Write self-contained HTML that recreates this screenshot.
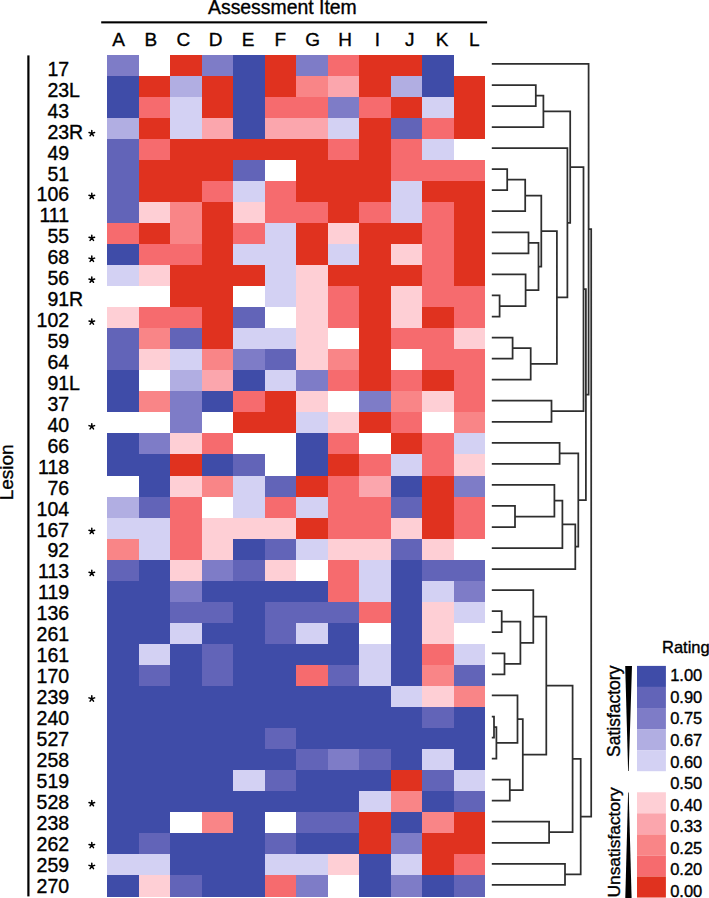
<!DOCTYPE html>
<html><head><meta charset="utf-8"><style>
html,body{margin:0;padding:0;background:#fff;}
body{width:709px;height:898px;overflow:hidden;}
svg{display:block;}
text{font-family:"Liberation Sans",sans-serif;fill:#000;stroke:#000;stroke-width:0.35px;}
</style></head><body>
<svg width="709" height="898" viewBox="0 0 709 898">
<g shape-rendering="crispEdges"><rect x="107.00" y="54.50" width="31.50" height="21.05" fill="#7e7cc7"/><rect x="170.00" y="54.50" width="31.50" height="21.05" fill="#e0321f"/><rect x="201.50" y="54.50" width="31.50" height="21.05" fill="#7e7cc7"/><rect x="233.00" y="54.50" width="31.50" height="21.05" fill="#3f4ca8"/><rect x="264.50" y="54.50" width="31.50" height="21.05" fill="#e0321f"/><rect x="296.00" y="54.50" width="31.50" height="21.05" fill="#7e7cc7"/><rect x="327.50" y="54.50" width="31.50" height="21.05" fill="#f66b6e"/><rect x="359.00" y="54.50" width="31.50" height="21.05" fill="#e0321f"/><rect x="390.50" y="54.50" width="31.50" height="21.05" fill="#e0321f"/><rect x="422.00" y="54.50" width="31.50" height="21.05" fill="#3f4ca8"/><rect x="107.00" y="75.55" width="31.50" height="21.05" fill="#3f4ca8"/><rect x="138.50" y="75.55" width="31.50" height="21.05" fill="#e0321f"/><rect x="170.00" y="75.55" width="31.50" height="21.05" fill="#b1aee2"/><rect x="201.50" y="75.55" width="31.50" height="21.05" fill="#e0321f"/><rect x="233.00" y="75.55" width="31.50" height="21.05" fill="#3f4ca8"/><rect x="264.50" y="75.55" width="31.50" height="21.05" fill="#e0321f"/><rect x="296.00" y="75.55" width="31.50" height="21.05" fill="#f98587"/><rect x="327.50" y="75.55" width="31.50" height="21.05" fill="#fba6ad"/><rect x="359.00" y="75.55" width="31.50" height="21.05" fill="#e0321f"/><rect x="390.50" y="75.55" width="31.50" height="21.05" fill="#b1aee2"/><rect x="422.00" y="75.55" width="31.50" height="21.05" fill="#3f4ca8"/><rect x="453.50" y="75.55" width="31.50" height="21.05" fill="#e0321f"/><rect x="107.00" y="96.60" width="31.50" height="21.05" fill="#3f4ca8"/><rect x="138.50" y="96.60" width="31.50" height="21.05" fill="#f66b6e"/><rect x="170.00" y="96.60" width="31.50" height="21.05" fill="#d3d1f3"/><rect x="201.50" y="96.60" width="31.50" height="21.05" fill="#e0321f"/><rect x="233.00" y="96.60" width="31.50" height="21.05" fill="#3f4ca8"/><rect x="264.50" y="96.60" width="31.50" height="21.05" fill="#f66b6e"/><rect x="296.00" y="96.60" width="31.50" height="21.05" fill="#f66b6e"/><rect x="327.50" y="96.60" width="31.50" height="21.05" fill="#7e7cc7"/><rect x="359.00" y="96.60" width="31.50" height="21.05" fill="#f66b6e"/><rect x="390.50" y="96.60" width="31.50" height="21.05" fill="#e0321f"/><rect x="422.00" y="96.60" width="31.50" height="21.05" fill="#d3d1f3"/><rect x="453.50" y="96.60" width="31.50" height="21.05" fill="#e0321f"/><rect x="107.00" y="117.65" width="31.50" height="21.05" fill="#b1aee2"/><rect x="138.50" y="117.65" width="31.50" height="21.05" fill="#e0321f"/><rect x="170.00" y="117.65" width="31.50" height="21.05" fill="#d3d1f3"/><rect x="201.50" y="117.65" width="31.50" height="21.05" fill="#fba6ad"/><rect x="233.00" y="117.65" width="31.50" height="21.05" fill="#3f4ca8"/><rect x="264.50" y="117.65" width="31.50" height="21.05" fill="#fba6ad"/><rect x="296.00" y="117.65" width="31.50" height="21.05" fill="#fba6ad"/><rect x="327.50" y="117.65" width="31.50" height="21.05" fill="#d3d1f3"/><rect x="359.00" y="117.65" width="31.50" height="21.05" fill="#e0321f"/><rect x="390.50" y="117.65" width="31.50" height="21.05" fill="#6264b8"/><rect x="422.00" y="117.65" width="31.50" height="21.05" fill="#f66b6e"/><rect x="453.50" y="117.65" width="31.50" height="21.05" fill="#e0321f"/><rect x="107.00" y="138.70" width="31.50" height="21.05" fill="#6264b8"/><rect x="138.50" y="138.70" width="31.50" height="21.05" fill="#f66b6e"/><rect x="170.00" y="138.70" width="31.50" height="21.05" fill="#e0321f"/><rect x="201.50" y="138.70" width="31.50" height="21.05" fill="#e0321f"/><rect x="233.00" y="138.70" width="31.50" height="21.05" fill="#e0321f"/><rect x="264.50" y="138.70" width="31.50" height="21.05" fill="#e0321f"/><rect x="296.00" y="138.70" width="31.50" height="21.05" fill="#e0321f"/><rect x="327.50" y="138.70" width="31.50" height="21.05" fill="#f66b6e"/><rect x="359.00" y="138.70" width="31.50" height="21.05" fill="#e0321f"/><rect x="390.50" y="138.70" width="31.50" height="21.05" fill="#f66b6e"/><rect x="422.00" y="138.70" width="31.50" height="21.05" fill="#d3d1f3"/><rect x="107.00" y="159.75" width="31.50" height="21.05" fill="#6264b8"/><rect x="138.50" y="159.75" width="31.50" height="21.05" fill="#e0321f"/><rect x="170.00" y="159.75" width="31.50" height="21.05" fill="#e0321f"/><rect x="201.50" y="159.75" width="31.50" height="21.05" fill="#e0321f"/><rect x="233.00" y="159.75" width="31.50" height="21.05" fill="#6264b8"/><rect x="296.00" y="159.75" width="31.50" height="21.05" fill="#e0321f"/><rect x="327.50" y="159.75" width="31.50" height="21.05" fill="#e0321f"/><rect x="359.00" y="159.75" width="31.50" height="21.05" fill="#e0321f"/><rect x="390.50" y="159.75" width="31.50" height="21.05" fill="#f66b6e"/><rect x="422.00" y="159.75" width="31.50" height="21.05" fill="#f66b6e"/><rect x="453.50" y="159.75" width="31.50" height="21.05" fill="#f66b6e"/><rect x="107.00" y="180.80" width="31.50" height="21.05" fill="#6264b8"/><rect x="138.50" y="180.80" width="31.50" height="21.05" fill="#e0321f"/><rect x="170.00" y="180.80" width="31.50" height="21.05" fill="#e0321f"/><rect x="201.50" y="180.80" width="31.50" height="21.05" fill="#f66b6e"/><rect x="233.00" y="180.80" width="31.50" height="21.05" fill="#d3d1f3"/><rect x="264.50" y="180.80" width="31.50" height="21.05" fill="#f66b6e"/><rect x="296.00" y="180.80" width="31.50" height="21.05" fill="#e0321f"/><rect x="327.50" y="180.80" width="31.50" height="21.05" fill="#e0321f"/><rect x="359.00" y="180.80" width="31.50" height="21.05" fill="#e0321f"/><rect x="390.50" y="180.80" width="31.50" height="21.05" fill="#d3d1f3"/><rect x="422.00" y="180.80" width="31.50" height="21.05" fill="#e0321f"/><rect x="453.50" y="180.80" width="31.50" height="21.05" fill="#e0321f"/><rect x="107.00" y="201.85" width="31.50" height="21.05" fill="#6264b8"/><rect x="138.50" y="201.85" width="31.50" height="21.05" fill="#fecfd5"/><rect x="170.00" y="201.85" width="31.50" height="21.05" fill="#f98587"/><rect x="201.50" y="201.85" width="31.50" height="21.05" fill="#e0321f"/><rect x="233.00" y="201.85" width="31.50" height="21.05" fill="#fecfd5"/><rect x="264.50" y="201.85" width="31.50" height="21.05" fill="#f66b6e"/><rect x="296.00" y="201.85" width="31.50" height="21.05" fill="#f66b6e"/><rect x="327.50" y="201.85" width="31.50" height="21.05" fill="#e0321f"/><rect x="359.00" y="201.85" width="31.50" height="21.05" fill="#f66b6e"/><rect x="390.50" y="201.85" width="31.50" height="21.05" fill="#d3d1f3"/><rect x="422.00" y="201.85" width="31.50" height="21.05" fill="#f66b6e"/><rect x="453.50" y="201.85" width="31.50" height="21.05" fill="#e0321f"/><rect x="107.00" y="222.90" width="31.50" height="21.05" fill="#f66b6e"/><rect x="138.50" y="222.90" width="31.50" height="21.05" fill="#e0321f"/><rect x="170.00" y="222.90" width="31.50" height="21.05" fill="#f98587"/><rect x="201.50" y="222.90" width="31.50" height="21.05" fill="#e0321f"/><rect x="233.00" y="222.90" width="31.50" height="21.05" fill="#f66b6e"/><rect x="264.50" y="222.90" width="31.50" height="21.05" fill="#d3d1f3"/><rect x="296.00" y="222.90" width="31.50" height="21.05" fill="#e0321f"/><rect x="327.50" y="222.90" width="31.50" height="21.05" fill="#fecfd5"/><rect x="359.00" y="222.90" width="31.50" height="21.05" fill="#e0321f"/><rect x="390.50" y="222.90" width="31.50" height="21.05" fill="#e0321f"/><rect x="422.00" y="222.90" width="31.50" height="21.05" fill="#f66b6e"/><rect x="453.50" y="222.90" width="31.50" height="21.05" fill="#e0321f"/><rect x="107.00" y="243.95" width="31.50" height="21.05" fill="#3f4ca8"/><rect x="138.50" y="243.95" width="31.50" height="21.05" fill="#f66b6e"/><rect x="170.00" y="243.95" width="31.50" height="21.05" fill="#f66b6e"/><rect x="201.50" y="243.95" width="31.50" height="21.05" fill="#e0321f"/><rect x="233.00" y="243.95" width="31.50" height="21.05" fill="#d3d1f3"/><rect x="264.50" y="243.95" width="31.50" height="21.05" fill="#d3d1f3"/><rect x="296.00" y="243.95" width="31.50" height="21.05" fill="#e0321f"/><rect x="327.50" y="243.95" width="31.50" height="21.05" fill="#d3d1f3"/><rect x="359.00" y="243.95" width="31.50" height="21.05" fill="#e0321f"/><rect x="390.50" y="243.95" width="31.50" height="21.05" fill="#fecfd5"/><rect x="422.00" y="243.95" width="31.50" height="21.05" fill="#f66b6e"/><rect x="453.50" y="243.95" width="31.50" height="21.05" fill="#e0321f"/><rect x="107.00" y="265.00" width="31.50" height="21.05" fill="#d3d1f3"/><rect x="138.50" y="265.00" width="31.50" height="21.05" fill="#fecfd5"/><rect x="170.00" y="265.00" width="31.50" height="21.05" fill="#e0321f"/><rect x="201.50" y="265.00" width="31.50" height="21.05" fill="#e0321f"/><rect x="233.00" y="265.00" width="31.50" height="21.05" fill="#e0321f"/><rect x="264.50" y="265.00" width="31.50" height="21.05" fill="#d3d1f3"/><rect x="296.00" y="265.00" width="31.50" height="21.05" fill="#fecfd5"/><rect x="327.50" y="265.00" width="31.50" height="21.05" fill="#e0321f"/><rect x="359.00" y="265.00" width="31.50" height="21.05" fill="#e0321f"/><rect x="390.50" y="265.00" width="31.50" height="21.05" fill="#e0321f"/><rect x="422.00" y="265.00" width="31.50" height="21.05" fill="#f66b6e"/><rect x="453.50" y="265.00" width="31.50" height="21.05" fill="#e0321f"/><rect x="170.00" y="286.05" width="31.50" height="21.05" fill="#e0321f"/><rect x="201.50" y="286.05" width="31.50" height="21.05" fill="#e0321f"/><rect x="264.50" y="286.05" width="31.50" height="21.05" fill="#d3d1f3"/><rect x="296.00" y="286.05" width="31.50" height="21.05" fill="#fecfd5"/><rect x="327.50" y="286.05" width="31.50" height="21.05" fill="#f66b6e"/><rect x="359.00" y="286.05" width="31.50" height="21.05" fill="#e0321f"/><rect x="390.50" y="286.05" width="31.50" height="21.05" fill="#fecfd5"/><rect x="422.00" y="286.05" width="31.50" height="21.05" fill="#f66b6e"/><rect x="453.50" y="286.05" width="31.50" height="21.05" fill="#f66b6e"/><rect x="107.00" y="307.10" width="31.50" height="21.05" fill="#fecfd5"/><rect x="138.50" y="307.10" width="31.50" height="21.05" fill="#f66b6e"/><rect x="170.00" y="307.10" width="31.50" height="21.05" fill="#f66b6e"/><rect x="201.50" y="307.10" width="31.50" height="21.05" fill="#e0321f"/><rect x="233.00" y="307.10" width="31.50" height="21.05" fill="#6264b8"/><rect x="296.00" y="307.10" width="31.50" height="21.05" fill="#fecfd5"/><rect x="327.50" y="307.10" width="31.50" height="21.05" fill="#f66b6e"/><rect x="359.00" y="307.10" width="31.50" height="21.05" fill="#e0321f"/><rect x="390.50" y="307.10" width="31.50" height="21.05" fill="#fecfd5"/><rect x="422.00" y="307.10" width="31.50" height="21.05" fill="#e0321f"/><rect x="453.50" y="307.10" width="31.50" height="21.05" fill="#f66b6e"/><rect x="107.00" y="328.15" width="31.50" height="21.05" fill="#6264b8"/><rect x="138.50" y="328.15" width="31.50" height="21.05" fill="#f98587"/><rect x="170.00" y="328.15" width="31.50" height="21.05" fill="#6264b8"/><rect x="201.50" y="328.15" width="31.50" height="21.05" fill="#e0321f"/><rect x="233.00" y="328.15" width="31.50" height="21.05" fill="#d3d1f3"/><rect x="264.50" y="328.15" width="31.50" height="21.05" fill="#d3d1f3"/><rect x="296.00" y="328.15" width="31.50" height="21.05" fill="#fecfd5"/><rect x="359.00" y="328.15" width="31.50" height="21.05" fill="#e0321f"/><rect x="390.50" y="328.15" width="31.50" height="21.05" fill="#f66b6e"/><rect x="422.00" y="328.15" width="31.50" height="21.05" fill="#f66b6e"/><rect x="453.50" y="328.15" width="31.50" height="21.05" fill="#fecfd5"/><rect x="107.00" y="349.20" width="31.50" height="21.05" fill="#6264b8"/><rect x="138.50" y="349.20" width="31.50" height="21.05" fill="#fecfd5"/><rect x="170.00" y="349.20" width="31.50" height="21.05" fill="#d3d1f3"/><rect x="201.50" y="349.20" width="31.50" height="21.05" fill="#f98587"/><rect x="233.00" y="349.20" width="31.50" height="21.05" fill="#7e7cc7"/><rect x="264.50" y="349.20" width="31.50" height="21.05" fill="#6264b8"/><rect x="296.00" y="349.20" width="31.50" height="21.05" fill="#fecfd5"/><rect x="327.50" y="349.20" width="31.50" height="21.05" fill="#f98587"/><rect x="359.00" y="349.20" width="31.50" height="21.05" fill="#e0321f"/><rect x="422.00" y="349.20" width="31.50" height="21.05" fill="#f66b6e"/><rect x="453.50" y="349.20" width="31.50" height="21.05" fill="#f66b6e"/><rect x="107.00" y="370.25" width="31.50" height="21.05" fill="#3f4ca8"/><rect x="170.00" y="370.25" width="31.50" height="21.05" fill="#b1aee2"/><rect x="201.50" y="370.25" width="31.50" height="21.05" fill="#fba6ad"/><rect x="233.00" y="370.25" width="31.50" height="21.05" fill="#3f4ca8"/><rect x="264.50" y="370.25" width="31.50" height="21.05" fill="#d3d1f3"/><rect x="296.00" y="370.25" width="31.50" height="21.05" fill="#7e7cc7"/><rect x="327.50" y="370.25" width="31.50" height="21.05" fill="#f66b6e"/><rect x="359.00" y="370.25" width="31.50" height="21.05" fill="#e0321f"/><rect x="390.50" y="370.25" width="31.50" height="21.05" fill="#f66b6e"/><rect x="422.00" y="370.25" width="31.50" height="21.05" fill="#e0321f"/><rect x="453.50" y="370.25" width="31.50" height="21.05" fill="#f66b6e"/><rect x="107.00" y="391.30" width="31.50" height="21.05" fill="#3f4ca8"/><rect x="138.50" y="391.30" width="31.50" height="21.05" fill="#f98587"/><rect x="170.00" y="391.30" width="31.50" height="21.05" fill="#7e7cc7"/><rect x="201.50" y="391.30" width="31.50" height="21.05" fill="#3f4ca8"/><rect x="233.00" y="391.30" width="31.50" height="21.05" fill="#f66b6e"/><rect x="264.50" y="391.30" width="31.50" height="21.05" fill="#e0321f"/><rect x="296.00" y="391.30" width="31.50" height="21.05" fill="#fecfd5"/><rect x="359.00" y="391.30" width="31.50" height="21.05" fill="#7e7cc7"/><rect x="390.50" y="391.30" width="31.50" height="21.05" fill="#f98587"/><rect x="422.00" y="391.30" width="31.50" height="21.05" fill="#fecfd5"/><rect x="453.50" y="391.30" width="31.50" height="21.05" fill="#f66b6e"/><rect x="170.00" y="412.35" width="31.50" height="21.05" fill="#7e7cc7"/><rect x="233.00" y="412.35" width="31.50" height="21.05" fill="#e0321f"/><rect x="264.50" y="412.35" width="31.50" height="21.05" fill="#e0321f"/><rect x="296.00" y="412.35" width="31.50" height="21.05" fill="#d3d1f3"/><rect x="327.50" y="412.35" width="31.50" height="21.05" fill="#fecfd5"/><rect x="359.00" y="412.35" width="31.50" height="21.05" fill="#e0321f"/><rect x="390.50" y="412.35" width="31.50" height="21.05" fill="#f66b6e"/><rect x="453.50" y="412.35" width="31.50" height="21.05" fill="#f98587"/><rect x="107.00" y="433.40" width="31.50" height="21.05" fill="#3f4ca8"/><rect x="138.50" y="433.40" width="31.50" height="21.05" fill="#7e7cc7"/><rect x="170.00" y="433.40" width="31.50" height="21.05" fill="#fecfd5"/><rect x="201.50" y="433.40" width="31.50" height="21.05" fill="#f66b6e"/><rect x="296.00" y="433.40" width="31.50" height="21.05" fill="#3f4ca8"/><rect x="327.50" y="433.40" width="31.50" height="21.05" fill="#f66b6e"/><rect x="390.50" y="433.40" width="31.50" height="21.05" fill="#e0321f"/><rect x="422.00" y="433.40" width="31.50" height="21.05" fill="#f66b6e"/><rect x="453.50" y="433.40" width="31.50" height="21.05" fill="#d3d1f3"/><rect x="107.00" y="454.45" width="31.50" height="21.05" fill="#3f4ca8"/><rect x="138.50" y="454.45" width="31.50" height="21.05" fill="#3f4ca8"/><rect x="170.00" y="454.45" width="31.50" height="21.05" fill="#e0321f"/><rect x="201.50" y="454.45" width="31.50" height="21.05" fill="#3f4ca8"/><rect x="233.00" y="454.45" width="31.50" height="21.05" fill="#6264b8"/><rect x="296.00" y="454.45" width="31.50" height="21.05" fill="#3f4ca8"/><rect x="327.50" y="454.45" width="31.50" height="21.05" fill="#e0321f"/><rect x="359.00" y="454.45" width="31.50" height="21.05" fill="#f66b6e"/><rect x="390.50" y="454.45" width="31.50" height="21.05" fill="#d3d1f3"/><rect x="422.00" y="454.45" width="31.50" height="21.05" fill="#f66b6e"/><rect x="453.50" y="454.45" width="31.50" height="21.05" fill="#fecfd5"/><rect x="138.50" y="475.50" width="31.50" height="21.05" fill="#3f4ca8"/><rect x="170.00" y="475.50" width="31.50" height="21.05" fill="#fecfd5"/><rect x="201.50" y="475.50" width="31.50" height="21.05" fill="#f98587"/><rect x="233.00" y="475.50" width="31.50" height="21.05" fill="#d3d1f3"/><rect x="264.50" y="475.50" width="31.50" height="21.05" fill="#6264b8"/><rect x="296.00" y="475.50" width="31.50" height="21.05" fill="#e0321f"/><rect x="327.50" y="475.50" width="31.50" height="21.05" fill="#f66b6e"/><rect x="359.00" y="475.50" width="31.50" height="21.05" fill="#fba6ad"/><rect x="390.50" y="475.50" width="31.50" height="21.05" fill="#3f4ca8"/><rect x="422.00" y="475.50" width="31.50" height="21.05" fill="#e0321f"/><rect x="453.50" y="475.50" width="31.50" height="21.05" fill="#7e7cc7"/><rect x="107.00" y="496.55" width="31.50" height="21.05" fill="#b1aee2"/><rect x="138.50" y="496.55" width="31.50" height="21.05" fill="#6264b8"/><rect x="170.00" y="496.55" width="31.50" height="21.05" fill="#f66b6e"/><rect x="233.00" y="496.55" width="31.50" height="21.05" fill="#d3d1f3"/><rect x="264.50" y="496.55" width="31.50" height="21.05" fill="#f66b6e"/><rect x="296.00" y="496.55" width="31.50" height="21.05" fill="#d3d1f3"/><rect x="327.50" y="496.55" width="31.50" height="21.05" fill="#f66b6e"/><rect x="359.00" y="496.55" width="31.50" height="21.05" fill="#f66b6e"/><rect x="390.50" y="496.55" width="31.50" height="21.05" fill="#6264b8"/><rect x="422.00" y="496.55" width="31.50" height="21.05" fill="#e0321f"/><rect x="453.50" y="496.55" width="31.50" height="21.05" fill="#f66b6e"/><rect x="107.00" y="517.60" width="31.50" height="21.05" fill="#d3d1f3"/><rect x="138.50" y="517.60" width="31.50" height="21.05" fill="#d3d1f3"/><rect x="170.00" y="517.60" width="31.50" height="21.05" fill="#f66b6e"/><rect x="201.50" y="517.60" width="31.50" height="21.05" fill="#fecfd5"/><rect x="233.00" y="517.60" width="31.50" height="21.05" fill="#fecfd5"/><rect x="264.50" y="517.60" width="31.50" height="21.05" fill="#fecfd5"/><rect x="296.00" y="517.60" width="31.50" height="21.05" fill="#e0321f"/><rect x="327.50" y="517.60" width="31.50" height="21.05" fill="#f66b6e"/><rect x="359.00" y="517.60" width="31.50" height="21.05" fill="#f66b6e"/><rect x="390.50" y="517.60" width="31.50" height="21.05" fill="#fecfd5"/><rect x="422.00" y="517.60" width="31.50" height="21.05" fill="#e0321f"/><rect x="453.50" y="517.60" width="31.50" height="21.05" fill="#f66b6e"/><rect x="107.00" y="538.65" width="31.50" height="21.05" fill="#f98587"/><rect x="138.50" y="538.65" width="31.50" height="21.05" fill="#d3d1f3"/><rect x="170.00" y="538.65" width="31.50" height="21.05" fill="#f66b6e"/><rect x="201.50" y="538.65" width="31.50" height="21.05" fill="#fecfd5"/><rect x="233.00" y="538.65" width="31.50" height="21.05" fill="#3f4ca8"/><rect x="264.50" y="538.65" width="31.50" height="21.05" fill="#6264b8"/><rect x="296.00" y="538.65" width="31.50" height="21.05" fill="#d3d1f3"/><rect x="327.50" y="538.65" width="31.50" height="21.05" fill="#fecfd5"/><rect x="359.00" y="538.65" width="31.50" height="21.05" fill="#fecfd5"/><rect x="390.50" y="538.65" width="31.50" height="21.05" fill="#6264b8"/><rect x="422.00" y="538.65" width="31.50" height="21.05" fill="#fecfd5"/><rect x="107.00" y="559.70" width="31.50" height="21.05" fill="#6264b8"/><rect x="138.50" y="559.70" width="31.50" height="21.05" fill="#3f4ca8"/><rect x="170.00" y="559.70" width="31.50" height="21.05" fill="#fecfd5"/><rect x="201.50" y="559.70" width="31.50" height="21.05" fill="#7e7cc7"/><rect x="233.00" y="559.70" width="31.50" height="21.05" fill="#6264b8"/><rect x="264.50" y="559.70" width="31.50" height="21.05" fill="#fecfd5"/><rect x="327.50" y="559.70" width="31.50" height="21.05" fill="#f66b6e"/><rect x="359.00" y="559.70" width="31.50" height="21.05" fill="#d3d1f3"/><rect x="390.50" y="559.70" width="31.50" height="21.05" fill="#3f4ca8"/><rect x="422.00" y="559.70" width="31.50" height="21.05" fill="#6264b8"/><rect x="453.50" y="559.70" width="31.50" height="21.05" fill="#6264b8"/><rect x="107.00" y="580.75" width="31.50" height="21.05" fill="#3f4ca8"/><rect x="138.50" y="580.75" width="31.50" height="21.05" fill="#3f4ca8"/><rect x="170.00" y="580.75" width="31.50" height="21.05" fill="#7e7cc7"/><rect x="201.50" y="580.75" width="31.50" height="21.05" fill="#3f4ca8"/><rect x="233.00" y="580.75" width="31.50" height="21.05" fill="#3f4ca8"/><rect x="264.50" y="580.75" width="31.50" height="21.05" fill="#3f4ca8"/><rect x="296.00" y="580.75" width="31.50" height="21.05" fill="#3f4ca8"/><rect x="327.50" y="580.75" width="31.50" height="21.05" fill="#f66b6e"/><rect x="359.00" y="580.75" width="31.50" height="21.05" fill="#d3d1f3"/><rect x="390.50" y="580.75" width="31.50" height="21.05" fill="#3f4ca8"/><rect x="422.00" y="580.75" width="31.50" height="21.05" fill="#d3d1f3"/><rect x="453.50" y="580.75" width="31.50" height="21.05" fill="#7e7cc7"/><rect x="107.00" y="601.80" width="31.50" height="21.05" fill="#3f4ca8"/><rect x="138.50" y="601.80" width="31.50" height="21.05" fill="#3f4ca8"/><rect x="170.00" y="601.80" width="31.50" height="21.05" fill="#6264b8"/><rect x="201.50" y="601.80" width="31.50" height="21.05" fill="#6264b8"/><rect x="233.00" y="601.80" width="31.50" height="21.05" fill="#3f4ca8"/><rect x="264.50" y="601.80" width="31.50" height="21.05" fill="#6264b8"/><rect x="296.00" y="601.80" width="31.50" height="21.05" fill="#6264b8"/><rect x="327.50" y="601.80" width="31.50" height="21.05" fill="#6264b8"/><rect x="359.00" y="601.80" width="31.50" height="21.05" fill="#f66b6e"/><rect x="390.50" y="601.80" width="31.50" height="21.05" fill="#3f4ca8"/><rect x="422.00" y="601.80" width="31.50" height="21.05" fill="#fecfd5"/><rect x="453.50" y="601.80" width="31.50" height="21.05" fill="#d3d1f3"/><rect x="107.00" y="622.85" width="31.50" height="21.05" fill="#3f4ca8"/><rect x="138.50" y="622.85" width="31.50" height="21.05" fill="#3f4ca8"/><rect x="170.00" y="622.85" width="31.50" height="21.05" fill="#d3d1f3"/><rect x="201.50" y="622.85" width="31.50" height="21.05" fill="#3f4ca8"/><rect x="233.00" y="622.85" width="31.50" height="21.05" fill="#3f4ca8"/><rect x="264.50" y="622.85" width="31.50" height="21.05" fill="#6264b8"/><rect x="296.00" y="622.85" width="31.50" height="21.05" fill="#d3d1f3"/><rect x="327.50" y="622.85" width="31.50" height="21.05" fill="#3f4ca8"/><rect x="390.50" y="622.85" width="31.50" height="21.05" fill="#3f4ca8"/><rect x="422.00" y="622.85" width="31.50" height="21.05" fill="#fecfd5"/><rect x="107.00" y="643.90" width="31.50" height="21.05" fill="#3f4ca8"/><rect x="138.50" y="643.90" width="31.50" height="21.05" fill="#d3d1f3"/><rect x="170.00" y="643.90" width="31.50" height="21.05" fill="#3f4ca8"/><rect x="201.50" y="643.90" width="31.50" height="21.05" fill="#6264b8"/><rect x="233.00" y="643.90" width="31.50" height="21.05" fill="#3f4ca8"/><rect x="264.50" y="643.90" width="31.50" height="21.05" fill="#3f4ca8"/><rect x="296.00" y="643.90" width="31.50" height="21.05" fill="#3f4ca8"/><rect x="327.50" y="643.90" width="31.50" height="21.05" fill="#3f4ca8"/><rect x="359.00" y="643.90" width="31.50" height="21.05" fill="#d3d1f3"/><rect x="390.50" y="643.90" width="31.50" height="21.05" fill="#3f4ca8"/><rect x="422.00" y="643.90" width="31.50" height="21.05" fill="#f66b6e"/><rect x="453.50" y="643.90" width="31.50" height="21.05" fill="#d3d1f3"/><rect x="107.00" y="664.95" width="31.50" height="21.05" fill="#3f4ca8"/><rect x="138.50" y="664.95" width="31.50" height="21.05" fill="#6264b8"/><rect x="170.00" y="664.95" width="31.50" height="21.05" fill="#3f4ca8"/><rect x="201.50" y="664.95" width="31.50" height="21.05" fill="#6264b8"/><rect x="233.00" y="664.95" width="31.50" height="21.05" fill="#3f4ca8"/><rect x="264.50" y="664.95" width="31.50" height="21.05" fill="#3f4ca8"/><rect x="296.00" y="664.95" width="31.50" height="21.05" fill="#f66b6e"/><rect x="327.50" y="664.95" width="31.50" height="21.05" fill="#6264b8"/><rect x="359.00" y="664.95" width="31.50" height="21.05" fill="#d3d1f3"/><rect x="390.50" y="664.95" width="31.50" height="21.05" fill="#3f4ca8"/><rect x="422.00" y="664.95" width="31.50" height="21.05" fill="#f98587"/><rect x="453.50" y="664.95" width="31.50" height="21.05" fill="#6264b8"/><rect x="107.00" y="686.00" width="31.50" height="21.05" fill="#3f4ca8"/><rect x="138.50" y="686.00" width="31.50" height="21.05" fill="#3f4ca8"/><rect x="170.00" y="686.00" width="31.50" height="21.05" fill="#3f4ca8"/><rect x="201.50" y="686.00" width="31.50" height="21.05" fill="#3f4ca8"/><rect x="233.00" y="686.00" width="31.50" height="21.05" fill="#3f4ca8"/><rect x="264.50" y="686.00" width="31.50" height="21.05" fill="#3f4ca8"/><rect x="296.00" y="686.00" width="31.50" height="21.05" fill="#3f4ca8"/><rect x="327.50" y="686.00" width="31.50" height="21.05" fill="#3f4ca8"/><rect x="359.00" y="686.00" width="31.50" height="21.05" fill="#3f4ca8"/><rect x="390.50" y="686.00" width="31.50" height="21.05" fill="#d3d1f3"/><rect x="422.00" y="686.00" width="31.50" height="21.05" fill="#fecfd5"/><rect x="453.50" y="686.00" width="31.50" height="21.05" fill="#f98587"/><rect x="107.00" y="707.05" width="31.50" height="21.05" fill="#3f4ca8"/><rect x="138.50" y="707.05" width="31.50" height="21.05" fill="#3f4ca8"/><rect x="170.00" y="707.05" width="31.50" height="21.05" fill="#3f4ca8"/><rect x="201.50" y="707.05" width="31.50" height="21.05" fill="#3f4ca8"/><rect x="233.00" y="707.05" width="31.50" height="21.05" fill="#3f4ca8"/><rect x="264.50" y="707.05" width="31.50" height="21.05" fill="#3f4ca8"/><rect x="296.00" y="707.05" width="31.50" height="21.05" fill="#3f4ca8"/><rect x="327.50" y="707.05" width="31.50" height="21.05" fill="#3f4ca8"/><rect x="359.00" y="707.05" width="31.50" height="21.05" fill="#3f4ca8"/><rect x="390.50" y="707.05" width="31.50" height="21.05" fill="#3f4ca8"/><rect x="422.00" y="707.05" width="31.50" height="21.05" fill="#6264b8"/><rect x="453.50" y="707.05" width="31.50" height="21.05" fill="#3f4ca8"/><rect x="107.00" y="728.10" width="31.50" height="21.05" fill="#3f4ca8"/><rect x="138.50" y="728.10" width="31.50" height="21.05" fill="#3f4ca8"/><rect x="170.00" y="728.10" width="31.50" height="21.05" fill="#3f4ca8"/><rect x="201.50" y="728.10" width="31.50" height="21.05" fill="#3f4ca8"/><rect x="233.00" y="728.10" width="31.50" height="21.05" fill="#3f4ca8"/><rect x="264.50" y="728.10" width="31.50" height="21.05" fill="#6264b8"/><rect x="296.00" y="728.10" width="31.50" height="21.05" fill="#3f4ca8"/><rect x="327.50" y="728.10" width="31.50" height="21.05" fill="#3f4ca8"/><rect x="359.00" y="728.10" width="31.50" height="21.05" fill="#3f4ca8"/><rect x="390.50" y="728.10" width="31.50" height="21.05" fill="#3f4ca8"/><rect x="422.00" y="728.10" width="31.50" height="21.05" fill="#3f4ca8"/><rect x="453.50" y="728.10" width="31.50" height="21.05" fill="#3f4ca8"/><rect x="107.00" y="749.15" width="31.50" height="21.05" fill="#3f4ca8"/><rect x="138.50" y="749.15" width="31.50" height="21.05" fill="#3f4ca8"/><rect x="170.00" y="749.15" width="31.50" height="21.05" fill="#3f4ca8"/><rect x="201.50" y="749.15" width="31.50" height="21.05" fill="#3f4ca8"/><rect x="233.00" y="749.15" width="31.50" height="21.05" fill="#3f4ca8"/><rect x="264.50" y="749.15" width="31.50" height="21.05" fill="#3f4ca8"/><rect x="296.00" y="749.15" width="31.50" height="21.05" fill="#6264b8"/><rect x="327.50" y="749.15" width="31.50" height="21.05" fill="#7e7cc7"/><rect x="359.00" y="749.15" width="31.50" height="21.05" fill="#6264b8"/><rect x="390.50" y="749.15" width="31.50" height="21.05" fill="#3f4ca8"/><rect x="422.00" y="749.15" width="31.50" height="21.05" fill="#d3d1f3"/><rect x="453.50" y="749.15" width="31.50" height="21.05" fill="#3f4ca8"/><rect x="107.00" y="770.20" width="31.50" height="21.05" fill="#3f4ca8"/><rect x="138.50" y="770.20" width="31.50" height="21.05" fill="#3f4ca8"/><rect x="170.00" y="770.20" width="31.50" height="21.05" fill="#3f4ca8"/><rect x="201.50" y="770.20" width="31.50" height="21.05" fill="#3f4ca8"/><rect x="233.00" y="770.20" width="31.50" height="21.05" fill="#d3d1f3"/><rect x="264.50" y="770.20" width="31.50" height="21.05" fill="#6264b8"/><rect x="296.00" y="770.20" width="31.50" height="21.05" fill="#3f4ca8"/><rect x="327.50" y="770.20" width="31.50" height="21.05" fill="#3f4ca8"/><rect x="359.00" y="770.20" width="31.50" height="21.05" fill="#3f4ca8"/><rect x="390.50" y="770.20" width="31.50" height="21.05" fill="#e0321f"/><rect x="422.00" y="770.20" width="31.50" height="21.05" fill="#6264b8"/><rect x="453.50" y="770.20" width="31.50" height="21.05" fill="#d3d1f3"/><rect x="107.00" y="791.25" width="31.50" height="21.05" fill="#3f4ca8"/><rect x="138.50" y="791.25" width="31.50" height="21.05" fill="#3f4ca8"/><rect x="170.00" y="791.25" width="31.50" height="21.05" fill="#3f4ca8"/><rect x="201.50" y="791.25" width="31.50" height="21.05" fill="#3f4ca8"/><rect x="233.00" y="791.25" width="31.50" height="21.05" fill="#3f4ca8"/><rect x="264.50" y="791.25" width="31.50" height="21.05" fill="#3f4ca8"/><rect x="296.00" y="791.25" width="31.50" height="21.05" fill="#3f4ca8"/><rect x="327.50" y="791.25" width="31.50" height="21.05" fill="#3f4ca8"/><rect x="359.00" y="791.25" width="31.50" height="21.05" fill="#d3d1f3"/><rect x="390.50" y="791.25" width="31.50" height="21.05" fill="#f98587"/><rect x="422.00" y="791.25" width="31.50" height="21.05" fill="#3f4ca8"/><rect x="453.50" y="791.25" width="31.50" height="21.05" fill="#6264b8"/><rect x="107.00" y="812.30" width="31.50" height="21.05" fill="#3f4ca8"/><rect x="138.50" y="812.30" width="31.50" height="21.05" fill="#3f4ca8"/><rect x="201.50" y="812.30" width="31.50" height="21.05" fill="#f98587"/><rect x="233.00" y="812.30" width="31.50" height="21.05" fill="#3f4ca8"/><rect x="296.00" y="812.30" width="31.50" height="21.05" fill="#6264b8"/><rect x="327.50" y="812.30" width="31.50" height="21.05" fill="#6264b8"/><rect x="359.00" y="812.30" width="31.50" height="21.05" fill="#e0321f"/><rect x="390.50" y="812.30" width="31.50" height="21.05" fill="#3f4ca8"/><rect x="422.00" y="812.30" width="31.50" height="21.05" fill="#f98587"/><rect x="453.50" y="812.30" width="31.50" height="21.05" fill="#e0321f"/><rect x="107.00" y="833.35" width="31.50" height="21.05" fill="#3f4ca8"/><rect x="138.50" y="833.35" width="31.50" height="21.05" fill="#6264b8"/><rect x="170.00" y="833.35" width="31.50" height="21.05" fill="#3f4ca8"/><rect x="201.50" y="833.35" width="31.50" height="21.05" fill="#3f4ca8"/><rect x="233.00" y="833.35" width="31.50" height="21.05" fill="#3f4ca8"/><rect x="264.50" y="833.35" width="31.50" height="21.05" fill="#6264b8"/><rect x="296.00" y="833.35" width="31.50" height="21.05" fill="#3f4ca8"/><rect x="327.50" y="833.35" width="31.50" height="21.05" fill="#3f4ca8"/><rect x="359.00" y="833.35" width="31.50" height="21.05" fill="#e0321f"/><rect x="390.50" y="833.35" width="31.50" height="21.05" fill="#7e7cc7"/><rect x="422.00" y="833.35" width="31.50" height="21.05" fill="#e0321f"/><rect x="453.50" y="833.35" width="31.50" height="21.05" fill="#e0321f"/><rect x="107.00" y="854.40" width="31.50" height="21.05" fill="#d3d1f3"/><rect x="138.50" y="854.40" width="31.50" height="21.05" fill="#d3d1f3"/><rect x="170.00" y="854.40" width="31.50" height="21.05" fill="#3f4ca8"/><rect x="201.50" y="854.40" width="31.50" height="21.05" fill="#3f4ca8"/><rect x="233.00" y="854.40" width="31.50" height="21.05" fill="#3f4ca8"/><rect x="264.50" y="854.40" width="31.50" height="21.05" fill="#d3d1f3"/><rect x="296.00" y="854.40" width="31.50" height="21.05" fill="#d3d1f3"/><rect x="327.50" y="854.40" width="31.50" height="21.05" fill="#fecfd5"/><rect x="359.00" y="854.40" width="31.50" height="21.05" fill="#3f4ca8"/><rect x="390.50" y="854.40" width="31.50" height="21.05" fill="#d3d1f3"/><rect x="422.00" y="854.40" width="31.50" height="21.05" fill="#e0321f"/><rect x="453.50" y="854.40" width="31.50" height="21.05" fill="#f66b6e"/><rect x="107.00" y="875.45" width="31.50" height="21.05" fill="#3f4ca8"/><rect x="138.50" y="875.45" width="31.50" height="21.05" fill="#fecfd5"/><rect x="170.00" y="875.45" width="31.50" height="21.05" fill="#6264b8"/><rect x="201.50" y="875.45" width="31.50" height="21.05" fill="#3f4ca8"/><rect x="233.00" y="875.45" width="31.50" height="21.05" fill="#3f4ca8"/><rect x="264.50" y="875.45" width="31.50" height="21.05" fill="#f66b6e"/><rect x="296.00" y="875.45" width="31.50" height="21.05" fill="#7e7cc7"/><rect x="359.00" y="875.45" width="31.50" height="21.05" fill="#3f4ca8"/><rect x="390.50" y="875.45" width="31.50" height="21.05" fill="#7e7cc7"/><rect x="422.00" y="875.45" width="31.50" height="21.05" fill="#3f4ca8"/><rect x="453.50" y="875.45" width="31.50" height="21.05" fill="#6264b8"/></g>
<text x="208" y="13.9" font-size="19.4">Assessment Item</text>
<rect x="101.2" y="21.3" width="385.9" height="2.1" fill="#000"/>
<text x="118.6" y="46.4" font-size="19" text-anchor="middle">A</text><text x="150.9" y="46.4" font-size="19" text-anchor="middle">B</text><text x="183.3" y="46.4" font-size="19" text-anchor="middle">C</text><text x="215.6" y="46.4" font-size="19" text-anchor="middle">D</text><text x="248.0" y="46.4" font-size="19" text-anchor="middle">E</text><text x="280.3" y="46.4" font-size="19" text-anchor="middle">F</text><text x="312.6" y="46.4" font-size="19" text-anchor="middle">G</text><text x="345.0" y="46.4" font-size="19" text-anchor="middle">H</text><text x="377.3" y="46.4" font-size="19" text-anchor="middle">I</text><text x="409.7" y="46.4" font-size="19" text-anchor="middle">J</text><text x="442.0" y="46.4" font-size="19" text-anchor="middle">K</text><text x="474.3" y="46.4" font-size="19" text-anchor="middle">L</text>
<rect x="27.3" y="55.4" width="2.2" height="841" fill="#000"/>
<text transform="translate(13.3 472.3) rotate(-90)" font-size="19" text-anchor="middle">Lesion</text>
<text x="69.1" y="75.8" font-size="19.5" text-anchor="end">17</text><text x="69.1" y="96.7" font-size="19.5" text-anchor="end">23</text><text x="69.1" y="96.7" font-size="19.5">L</text><text x="69.1" y="117.7" font-size="19.5" text-anchor="end">43</text><text x="69.1" y="138.6" font-size="19.5" text-anchor="end">23</text><text x="69.1" y="138.6" font-size="19.5">R</text><text x="69.1" y="159.6" font-size="19.5" text-anchor="end">49</text><text x="69.1" y="180.5" font-size="19.5" text-anchor="end">51</text><text x="69.1" y="201.4" font-size="19.5" text-anchor="end">106</text><text x="69.1" y="222.4" font-size="19.5" text-anchor="end">111</text><text x="69.1" y="243.3" font-size="19.5" text-anchor="end">55</text><text x="69.1" y="264.3" font-size="19.5" text-anchor="end">68</text><text x="69.1" y="285.2" font-size="19.5" text-anchor="end">56</text><text x="69.1" y="306.1" font-size="19.5" text-anchor="end">91</text><text x="69.1" y="306.1" font-size="19.5">R</text><text x="69.1" y="327.1" font-size="19.5" text-anchor="end">102</text><text x="69.1" y="348.0" font-size="19.5" text-anchor="end">59</text><text x="69.1" y="369.0" font-size="19.5" text-anchor="end">64</text><text x="69.1" y="389.9" font-size="19.5" text-anchor="end">91</text><text x="69.1" y="389.9" font-size="19.5">L</text><text x="69.1" y="410.8" font-size="19.5" text-anchor="end">37</text><text x="69.1" y="431.8" font-size="19.5" text-anchor="end">40</text><text x="69.1" y="452.7" font-size="19.5" text-anchor="end">66</text><text x="69.1" y="473.7" font-size="19.5" text-anchor="end">118</text><text x="69.1" y="494.6" font-size="19.5" text-anchor="end">76</text><text x="69.1" y="515.5" font-size="19.5" text-anchor="end">104</text><text x="69.1" y="536.5" font-size="19.5" text-anchor="end">167</text><text x="69.1" y="557.4" font-size="19.5" text-anchor="end">92</text><text x="69.1" y="578.4" font-size="19.5" text-anchor="end">113</text><text x="69.1" y="599.3" font-size="19.5" text-anchor="end">119</text><text x="69.1" y="620.2" font-size="19.5" text-anchor="end">136</text><text x="69.1" y="641.2" font-size="19.5" text-anchor="end">261</text><text x="69.1" y="662.1" font-size="19.5" text-anchor="end">161</text><text x="69.1" y="683.1" font-size="19.5" text-anchor="end">170</text><text x="69.1" y="704.0" font-size="19.5" text-anchor="end">239</text><text x="69.1" y="724.9" font-size="19.5" text-anchor="end">240</text><text x="69.1" y="745.9" font-size="19.5" text-anchor="end">527</text><text x="69.1" y="766.8" font-size="19.5" text-anchor="end">258</text><text x="69.1" y="787.8" font-size="19.5" text-anchor="end">519</text><text x="69.1" y="808.7" font-size="19.5" text-anchor="end">528</text><text x="69.1" y="829.6" font-size="19.5" text-anchor="end">238</text><text x="69.1" y="850.6" font-size="19.5" text-anchor="end">262</text><text x="69.1" y="871.5" font-size="19.5" text-anchor="end">259</text><text x="69.1" y="892.5" font-size="19.5" text-anchor="end">270</text>
<path d="M91.80 133.37L91.80 130.47M91.80 133.37L94.56 132.47M91.80 133.37L93.50 135.72M91.80 133.37L90.10 135.72M91.80 133.37L89.04 132.47M91.80 196.19L91.80 193.29M91.80 196.19L94.56 195.29M91.80 196.19L93.50 198.54M91.80 196.19L90.10 198.54M91.80 196.19L89.04 195.29M91.80 238.07L91.80 235.17M91.80 238.07L94.56 237.17M91.80 238.07L93.50 240.42M91.80 238.07L90.10 240.42M91.80 238.07L89.04 237.17M91.80 259.01L91.80 256.11M91.80 259.01L94.56 258.11M91.80 259.01L93.50 261.36M91.80 259.01L90.10 261.36M91.80 259.01L89.04 258.11M91.80 279.95L91.80 277.05M91.80 279.95L94.56 279.05M91.80 279.95L93.50 282.30M91.80 279.95L90.10 282.30M91.80 279.95L89.04 279.05M91.80 321.83L91.80 318.93M91.80 321.83L94.56 320.93M91.80 321.83L93.50 324.18M91.80 321.83L90.10 324.18M91.80 321.83L89.04 320.93M91.80 426.53L91.80 423.63M91.80 426.53L94.56 425.63M91.80 426.53L93.50 428.88M91.80 426.53L90.10 428.88M91.80 426.53L89.04 425.63M91.80 531.23L91.80 528.33M91.80 531.23L94.56 530.33M91.80 531.23L93.50 533.58M91.80 531.23L90.10 533.58M91.80 531.23L89.04 530.33M91.80 573.11L91.80 570.21M91.80 573.11L94.56 572.21M91.80 573.11L93.50 575.46M91.80 573.11L90.10 575.46M91.80 573.11L89.04 572.21M91.80 698.75L91.80 695.85M91.80 698.75L94.56 697.85M91.80 698.75L93.50 701.10M91.80 698.75L90.10 701.10M91.80 698.75L89.04 697.85M91.80 803.45L91.80 800.55M91.80 803.45L94.56 802.55M91.80 803.45L93.50 805.80M91.80 803.45L90.10 805.80M91.80 803.45L89.04 802.55M91.80 845.33L91.80 842.43M91.80 845.33L94.56 844.43M91.80 845.33L93.50 847.68M91.80 845.33L90.10 847.68M91.80 845.33L89.04 844.43M91.80 866.27L91.80 863.37M91.80 866.27L94.56 865.37M91.80 866.27L93.50 868.62M91.80 866.27L90.10 868.62M91.80 866.27L89.04 865.37" stroke="#000" stroke-width="1.5" stroke-linecap="round" fill="none"/>
<path d="M588.6 229.2H591.2V816.6H580.7M491.8 63.9H588.6V394.6H585.9M583.5 289.1H585.9V500.0H578.3M570.2 167.0H583.5V411.2H551.5M543.4 111.3H570.2V222.8H567.4M535.8 95.5H543.4V127.1H491.8M491.8 85.0H535.8V106.0H491.8M491.8 148.1H567.4V297.4H556.9M541.3 231.0H556.9V363.9H530.7M525.2 195.5H541.3V266.5H538.5M507.2 179.7H525.2V211.2H491.8M491.8 169.2H507.2V190.2H491.8M528.5 242.8H538.5V290.2H525.6M491.8 232.3H528.5V253.4H491.8M491.8 274.4H525.6V306.0H499.6M491.8 295.4H499.6V316.5H491.8M512.6 348.1H530.7V379.6H491.8M491.8 337.6H512.6V358.6H491.8M491.8 400.7H551.5V421.8H491.8M559.6 453.3H578.3V546.7H575.3M491.8 442.8H559.6V463.8H491.8M562.4 524.4H575.3V569.1H491.8M554.4 500.7H562.4V548.1H491.8M491.8 484.9H554.4V516.5H515.0M491.8 505.9H515.0V527.0H491.8M572.6 758.9H580.7V874.3H565.0M546.3 685.5H572.6V832.2H549.1M533.3 616.5H546.3V754.6H522.8M491.8 590.1H533.3V642.8H520.4M501.7 621.7H520.4V663.8H504.5M491.8 611.2H501.7V632.2H491.8M491.8 653.3H504.5V674.4H491.8M517.5 719.1H522.8V790.1H509.8M491.8 695.4H517.5V742.8H496.4M494.0 727.0H496.4V758.5H491.8M491.8 716.5H494.0V737.5H491.8M491.8 779.6H509.8V800.6H491.8M491.8 821.7H549.1V842.8H491.8M491.8 863.8H565.0V884.9H491.8" fill="none" stroke="#2e2e2e" stroke-width="1.75" stroke-linecap="butt" stroke-linejoin="miter"/>
<text x="662" y="653.3" font-size="16.5">Rating</text>
<rect x="637" y="665.90" width="28.9" height="21.06" fill="#3f4ca8"/><text x="670.2" y="681.3" font-size="16.5">1.00</text><rect x="637" y="686.96" width="28.9" height="21.06" fill="#6264b8"/><text x="670.2" y="702.9" font-size="16.5">0.90</text><rect x="637" y="708.02" width="28.9" height="21.06" fill="#7e7cc7"/><text x="670.2" y="724.4" font-size="16.5">0.75</text><rect x="637" y="729.08" width="28.9" height="21.06" fill="#b1aee2"/><text x="670.2" y="746.0" font-size="16.5">0.67</text><rect x="637" y="750.14" width="28.9" height="21.06" fill="#d3d1f3"/><text x="670.2" y="767.6" font-size="16.5">0.60</text><text x="670.2" y="789.1" font-size="16.5">0.50</text><rect x="637" y="792.26" width="28.9" height="21.06" fill="#fecfd5"/><text x="670.2" y="810.7" font-size="16.5">0.40</text><rect x="637" y="813.32" width="28.9" height="21.06" fill="#fba6ad"/><text x="670.2" y="832.3" font-size="16.5">0.33</text><rect x="637" y="834.38" width="28.9" height="21.06" fill="#f98587"/><text x="670.2" y="853.9" font-size="16.5">0.25</text><rect x="637" y="855.44" width="28.9" height="21.06" fill="#f66b6e"/><text x="670.2" y="875.4" font-size="16.5">0.20</text><rect x="637" y="876.50" width="28.9" height="21.06" fill="#e0321f"/><text x="670.2" y="897.0" font-size="16.5">0.00</text>
<path d="M625.2 665.9L632 665.9L628.7 771L628.1 771Z" fill="#000"/>
<path d="M628.1 792.4L628.7 792.4L631.6 898L625.3 898Z" fill="#000"/>
<text transform="translate(619.8 711.3) rotate(-90)" font-size="17.5" text-anchor="middle">Satisfactory</text>
<text transform="translate(619.8 842.5) rotate(-90)" font-size="17.4" text-anchor="middle">Unsatisfactory</text>
</svg>
</body></html>
